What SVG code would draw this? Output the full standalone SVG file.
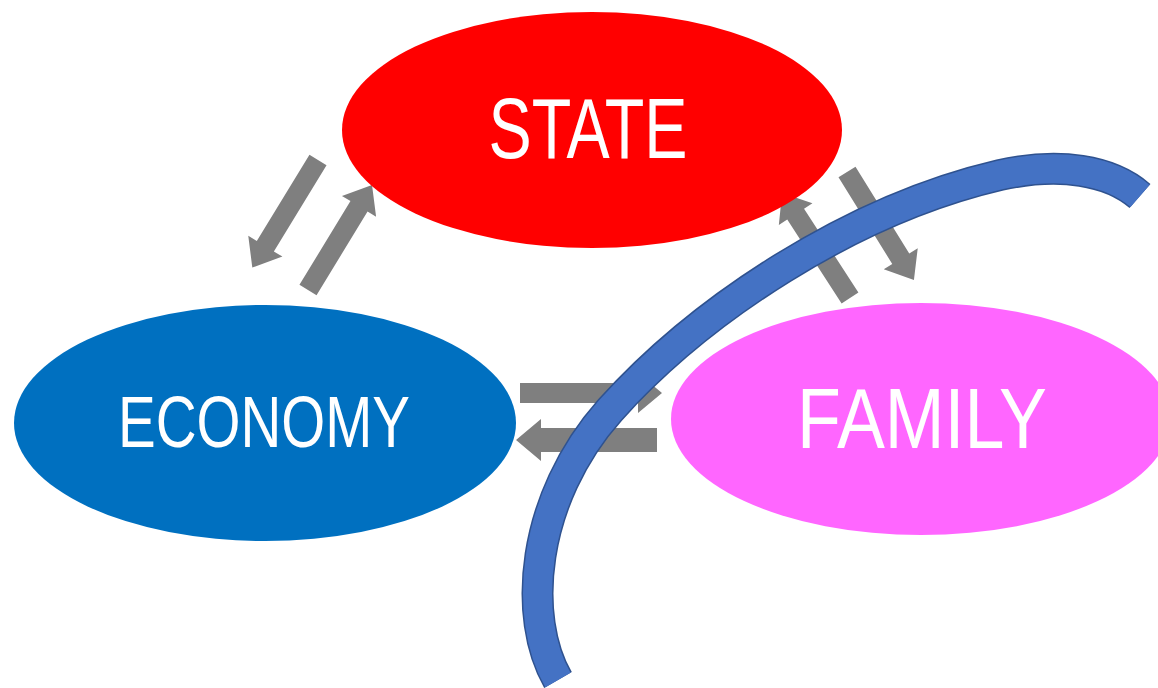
<svg xmlns="http://www.w3.org/2000/svg" width="1158" height="688" viewBox="0 0 1158 688">
<style>
.lbl{font-family:"Liberation Sans",Arial,sans-serif;fill:#ffffff;text-anchor:middle}
.arr{fill:#7f7f7f}
.arc-o{fill:none;stroke:#2f528f;stroke-width:32}
.arc-i{fill:none;stroke:#4472c4;stroke-width:29}
</style>
<rect width="1158" height="688" fill="#ffffff"/>
<g id="connectors">
  <polygon class="arr" transform="translate(318,160) rotate(121.43)" points="0,-10 101,-10 101,-20 126,0 101,20 101,10 0,10"/>
  <polygon class="arr" transform="translate(308,290) rotate(-58.63)" points="0,-10 98,-10 98,-20 123,0 98,20 98,10 0,10"/>
  <polygon class="arr" transform="translate(850,298) rotate(-122.93)" points="0,-10 100,-10 100,-20 125,0 100,20 100,10 0,10"/>
  <polygon class="arr" transform="translate(847,172) rotate(58.2)" points="0,-10 102,-10 102,-20 127,0 102,20 102,10 0,10"/>
  <polygon class="arr" transform="translate(520,393)" points="0,-10 118,-10 118,-20 142,0 118,20 118,10 0,10"/>
  <polygon class="arr" transform="translate(657,440) rotate(180)" points="0,-12 116,-12 116,-21 141,0 116,21 116,12 0,12"/>
</g>
<g id="state">
  <ellipse cx="592" cy="130" rx="250" ry="118" fill="#ff0000"/>
  <text class="lbl" x="588" y="158" font-size="85" textLength="199" lengthAdjust="spacingAndGlyphs">STATE</text>
</g>
<g id="economy">
  <ellipse cx="265" cy="423" rx="251" ry="118" fill="#0070c0"/>
  <text class="lbl" x="264" y="447" font-size="73" textLength="292" lengthAdjust="spacingAndGlyphs">ECONOMY</text>
</g>
<g id="family">
  <ellipse cx="921" cy="419" rx="250" ry="116" fill="#ff66ff"/>
  <text class="lbl" x="922" y="448" font-size="85" textLength="250" lengthAdjust="spacingAndGlyphs">FAMILY</text>
</g>
<g id="arc">
  <path class="arc-o" d="M 558,680 C 522,618 530,500 610,410 C 700,310 850,210 1000,175 C 1060,162 1110,170 1140,196"/>
  <path class="arc-i" d="M 558,680 C 522,618 530,500 610,410 C 700,310 850,210 1000,175 C 1060,162 1110,170 1140,196"/>
</g>
</svg>
